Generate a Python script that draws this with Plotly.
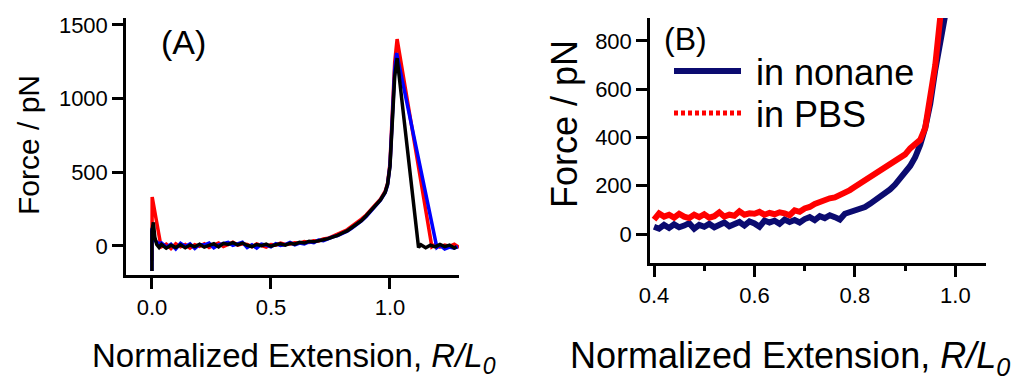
import plotly.graph_objects as go

# ---------------- Panel A data (Force vs normalized extension) ----------------
xa_mid = [0.04, 0.06, 0.08, 0.10, 0.12, 0.14, 0.16, 0.18, 0.20, 0.22, 0.24, 0.26,
          0.28, 0.30, 0.32, 0.34, 0.36, 0.38, 0.40, 0.42, 0.44, 0.46, 0.48, 0.50,
          0.52, 0.54, 0.56, 0.58, 0.60, 0.62, 0.64, 0.66, 0.68, 0.70, 0.72, 0.74,
          0.76, 0.78, 0.80, 0.82, 0.84, 0.86, 0.88, 0.90, 0.92, 0.94, 0.96, 0.98]

red_start_x = [0.0, 0.001, 0.035]
red_start_y = [-100, 332, 25]
red_mid_y = [-5, 12, -18, 15, -6, 10, -14, 8, -3, 14, -10, 6, 20, -4, 12, 25, 6, 15,
             10, -6, 14, 4, -8, 10, 6, 20, 10, 14, 22, 18, 30, 24, 36, 34, 48, 52,
             66, 80, 98, 110, 134, 155, 182, 210, 245, 278, 318, 372]
red_end_x = [0.99, 1.00, 1.01, 1.02, 1.03, 1.176, 1.19, 1.21, 1.23, 1.25, 1.27, 1.29]
red_end_y = [425, 560, 900, 1250, 1404, -5, 10, -8, 6, -2, 12, -10]

blue_start_x = [0.0, 0.0, 0.01, 0.03]
blue_start_y = [-170, 120, 40, 15]
blue_mid_y = [20, -8, 12, -20, 18, -4, 14, -16, 10, 6, 20, -12, 8, 14, 24, 4, 16, 25,
              -10, 8, -14, 12, 6, -6, 16, 4, 10, 24, 8, 20, 14, 28, 22, 40, 36, 50,
              62, 70, 84, 100, 122, 145, 170, 200, 236, 270, 310, 362]
blue_end_x = [0.99, 1.00, 1.01, 1.02, 1.028, 1.197, 1.21, 1.23, 1.25, 1.27, 1.285]
blue_end_y = [415, 545, 880, 1200, 1309, -10, 5, -20, -8, -15, -5]

black_start_x = [0.0, 0.0, 0.006, 0.012, 0.02, 0.03]
black_start_y = [-170, 100, 160, 60, 10, -10]
black_mid_y = [10, -15, 5, -10, 8, -12, 6, -5, 12, -8, 4, 15, -6, 18, 10, 22, 8, 20,
               5, -4, 10, 2, 12, -2, 8, 15, 6, 18, 12, 25, 20, 32, 28, 38, 42, 50,
               60, 72, 88, 102, 125, 148, 172, 205, 238, 272, 312, 365]
black_end_x = [0.99, 1.00, 1.01, 1.02, 1.03, 1.12, 1.13, 1.15, 1.17, 1.19, 1.21,
               1.23, 1.25, 1.27, 1.28]
black_end_y = [420, 540, 850, 1150, 1275, -10, 8, -12, 5, -6, 10, -4, 6, -14, -5]

# ---------------- Panel B data ----------------
xb = [0.40, 0.41, 0.42, 0.43, 0.44, 0.45, 0.46, 0.47, 0.48, 0.49, 0.50, 0.51, 0.52,
      0.53, 0.54, 0.55, 0.56, 0.57, 0.58, 0.59, 0.60, 0.61, 0.62, 0.63, 0.64, 0.65,
      0.66, 0.67, 0.68, 0.69, 0.70, 0.71, 0.72, 0.73, 0.74, 0.75, 0.76, 0.77, 0.78,
      0.79, 0.80, 0.81, 0.82, 0.83, 0.84, 0.85, 0.86, 0.87, 0.88, 0.89, 0.90, 0.91,
      0.92, 0.93, 0.94, 0.95, 0.96, 0.97, 0.98]
nonane_y = [30, 22, 38, 25, 40, 28, 35, 45, 22, 38, 30, 42, 28, 36, 48, 32, 40, 50,
            35, 52, 44, 30, 56, 48, 55, 42, 60, 50, 58, 48, 62, 70, 58, 74, 66, 78,
            70, 60, 84, 90, 98, 106, 112, 125, 140, 150, 168, 185, 205, 228, 255,
            282, 318, 370, 440, 540, 680, 780, 910]
pbs_y = [60, 85, 72, 80, 68, 84, 72, 66, 80, 70, 82, 68, 74, 90, 72, 80, 76, 94,
         80, 86, 84, 92, 80, 88, 82, 90, 86, 78, 98, 92, 106, 112, 125, 132, 145,
         148, 152, 160, 168, 182, 196, 210, 218, 238, 252, 262, 275, 292, 302, 315,
         330, 355, 375, 390, 440, 560, 700, 900]

xa_ticks = [0.0, 0.5, 1.0]
ya_ticks = [0, 500, 1000, 1500]
xb_ticks = [0.4, 0.6, 0.8, 1.0]
xb_minor = [0.5, 0.7, 0.9]
yb_ticks = [0, 200, 400, 600, 800]

FONT = "Liberation Sans, Arial, sans-serif"
NAVY = "#0b0b70"

# page offset of the plot div (default body margin) and figure size
OX, OY = 8, 8
FW, FH = 1025, 370


def px(x):
    return (x - OX) / FW


def py(y):
    return 1 - (y - OY) / FH


fig = go.Figure()

for sx, sy, my, ex, ey, col in [
    (red_start_x, red_start_y, red_mid_y, red_end_x, red_end_y, "#ff0000"),
    (blue_start_x, blue_start_y, blue_mid_y, blue_end_x, blue_end_y, "#0000ff"),
    (black_start_x, black_start_y, black_mid_y, black_end_x, black_end_y, "#000000"),
]:
    fig.add_trace(go.Scatter(x=sx + xa_mid + ex, y=sy + my + ey, mode="lines",
                             line=dict(color=col, width=3.5), showlegend=False,
                             xaxis="x", yaxis="y"))

fig.add_trace(go.Scatter(x=xb, y=nonane_y, mode="lines", name="\u00a0in nonane",
                         line=dict(color=NAVY, width=6), xaxis="x2", yaxis="y2",
                         showlegend=True, legend="legend"))
fig.add_trace(go.Scatter(x=xb[:len(pbs_y)], y=pbs_y, mode="lines", name="in PBS",
                         line=dict(color="#ff0000", width=6), xaxis="x2", yaxis="y2",
                         showlegend=False))
fig.add_trace(go.Scatter(x=[None], y=[None], mode="lines", name="\u00a0in PBS",
                         line=dict(color="#ff0000", width=5, dash="4px,3px"),
                         xaxis="x2", yaxis="y2", showlegend=True, legend="legend2"))

axis_common = dict(showline=True, linecolor="black", linewidth=2.5, ticks="outside",
                   ticklen=11, tickwidth=2.5, tickcolor="black", showgrid=False,
                   zeroline=False, automargin=False,
                   tickfont=dict(family=FONT, size=22, color="black"))

leg_common = dict(xanchor="left", yanchor="middle", bgcolor="rgba(0,0,0,0)",
                  itemwidth=67, font=dict(family=FONT, size=36, color="black"))

fig.update_layout(
    width=FW, height=FH, autosize=False,
    margin=dict(l=0, r=0, t=0, b=0),
    paper_bgcolor="white", plot_bgcolor="white",
    font=dict(family=FONT, color="black"),
    xaxis=dict(domain=[px(126), px(459)], range=[-0.109, 1.29], tickvals=xa_ticks,
               tickformat=".1f", anchor="y", **axis_common),
    yaxis=dict(domain=[py(275), py(18)], range=[-197, 1547], tickvals=ya_ticks,
               anchor="x", **axis_common),
    xaxis2=dict(domain=[px(650), px(986)], range=[0.392, 1.061], tickvals=xb_ticks,
                tickformat=".1f", anchor="y2",
                minor=dict(tickvals=xb_minor, ticks="outside", ticklen=5,
                           tickwidth=2.5, tickcolor="black"),
                **axis_common),
    yaxis2=dict(domain=[py(263), py(18)], range=[-120, 895], tickvals=yb_ticks,
                anchor="x2", **axis_common),
    legend=dict(x=px(669), y=py(71), **leg_common),
    legend2=dict(x=px(669), y=py(113), **leg_common),
    annotations=[
        dict(text="(A)", x=px(183), y=py(42), xref="paper", yref="paper",
             showarrow=False, font=dict(family=FONT, size=34, color="black"),
             xanchor="center", yanchor="middle"),
        dict(text="(B)", x=px(685), y=py(39), xref="paper", yref="paper",
             showarrow=False, font=dict(family=FONT, size=32, color="black"),
             xanchor="center", yanchor="middle"),
        dict(text="Force / pN", x=px(28), y=py(145), xref="paper",
             yref="paper", showarrow=False, textangle=-90,
             font=dict(family=FONT, size=30, color="black"),
             xanchor="center", yanchor="middle"),
        dict(text="Force / pN", x=px(564), y=py(124), xref="paper",
             yref="paper", showarrow=False, textangle=-90,
             font=dict(family=FONT, size=36, color="black"),
             xanchor="center", yanchor="middle"),
        dict(text="Normalized Extension, <i>R/L<sub>0</sub></i>", x=px(294),
             y=py(358), xref="paper", yref="paper", showarrow=False,
             font=dict(family=FONT, size=33, color="black"),
             xanchor="center", yanchor="middle"),
        dict(text="Normalized Extension, <i>R/L<sub>0</sub></i>", x=px(790),
             y=py(358), xref="paper", yref="paper", showarrow=False,
             font=dict(family=FONT, size=36, color="black"),
             xanchor="center", yanchor="middle"),
    ],
)

fig.write_html("out.html")
